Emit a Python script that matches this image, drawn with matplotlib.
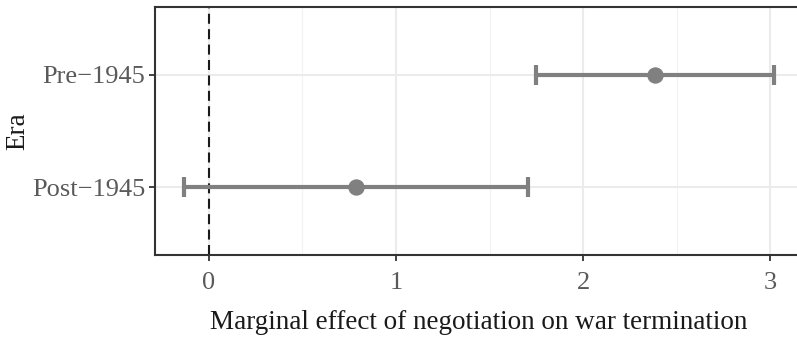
import matplotlib
matplotlib.use("Agg")
import matplotlib.pyplot as plt
from matplotlib.ticker import MultipleLocator

# Marginal effect estimates with confidence intervals
eras = ["Post\u22121945", "Pre\u22121945"]
estimates = [0.786, 2.382]
lower = [-0.130, 1.746]
upper = [1.706, 3.018]
x_ticks = [0, 1, 2, 3]

plt.rcParams["font.family"] = ["Liberation Serif", "DejaVu Serif"]

fig = plt.figure(figsize=(7.97, 3.37), dpi=100)
W, H = 797, 337
left_px, top_px, bottom_px = 155, 7, 255
x_min, x_max = -0.287, 3.175
px_per_unit = 187.2
width_px = (x_max - x_min) * px_per_unit
ax = fig.add_axes([left_px / W, 1 - bottom_px / H, width_px / W, (bottom_px - top_px) / H])

grey = "#808080"
ypos = list(range(1, len(eras) + 1))
err_lo = [e - l for e, l in zip(estimates, lower)]
err_hi = [u - e for e, u in zip(estimates, upper)]
ax.errorbar(estimates, ypos, xerr=[err_lo, err_hi], fmt="o", color=grey,
            ecolor=grey, elinewidth=3.0, capsize=7.2, capthick=3.0,
            markersize=10.8, zorder=3)
ax.axvline(0, color="#1a1a1a", linestyle=(0, (4.8, 2.6)), linewidth=1.5, zorder=2)

ax.set_xlim(x_min, x_max)
ax.set_ylim(0.4, 2.6)
ax.set_xticks(x_ticks)
ax.xaxis.set_minor_locator(MultipleLocator(0.5))
ax.set_yticks(ypos)
ax.set_yticklabels(eras)

ax.grid(which="major", color="#EBEBEB", linewidth=1.5, zorder=0)
ax.grid(which="minor", axis="x", color="#F2F2F2", linewidth=0.8, zorder=0)
ax.set_axisbelow(True)

for s in ax.spines.values():
    s.set_color("#333333")
    s.set_linewidth(1.5)

ax.tick_params(axis="both", which="major", length=4, width=1.3, color="#333333",
               labelsize=19, labelcolor="#5a5a5a")
ax.tick_params(axis="x", which="major", pad=8)
ax.tick_params(axis="y", which="major", pad=3)
ax.tick_params(axis="both", which="minor", length=0)

ax.set_xlabel("Marginal effect of negotiation on war termination", fontsize=19.5,
              color="#1a1a1a", labelpad=12)
ax.set_ylabel("Era", fontsize=19.5, color="#1a1a1a", labelpad=1)

fig.savefig("out.png", dpi=100)
